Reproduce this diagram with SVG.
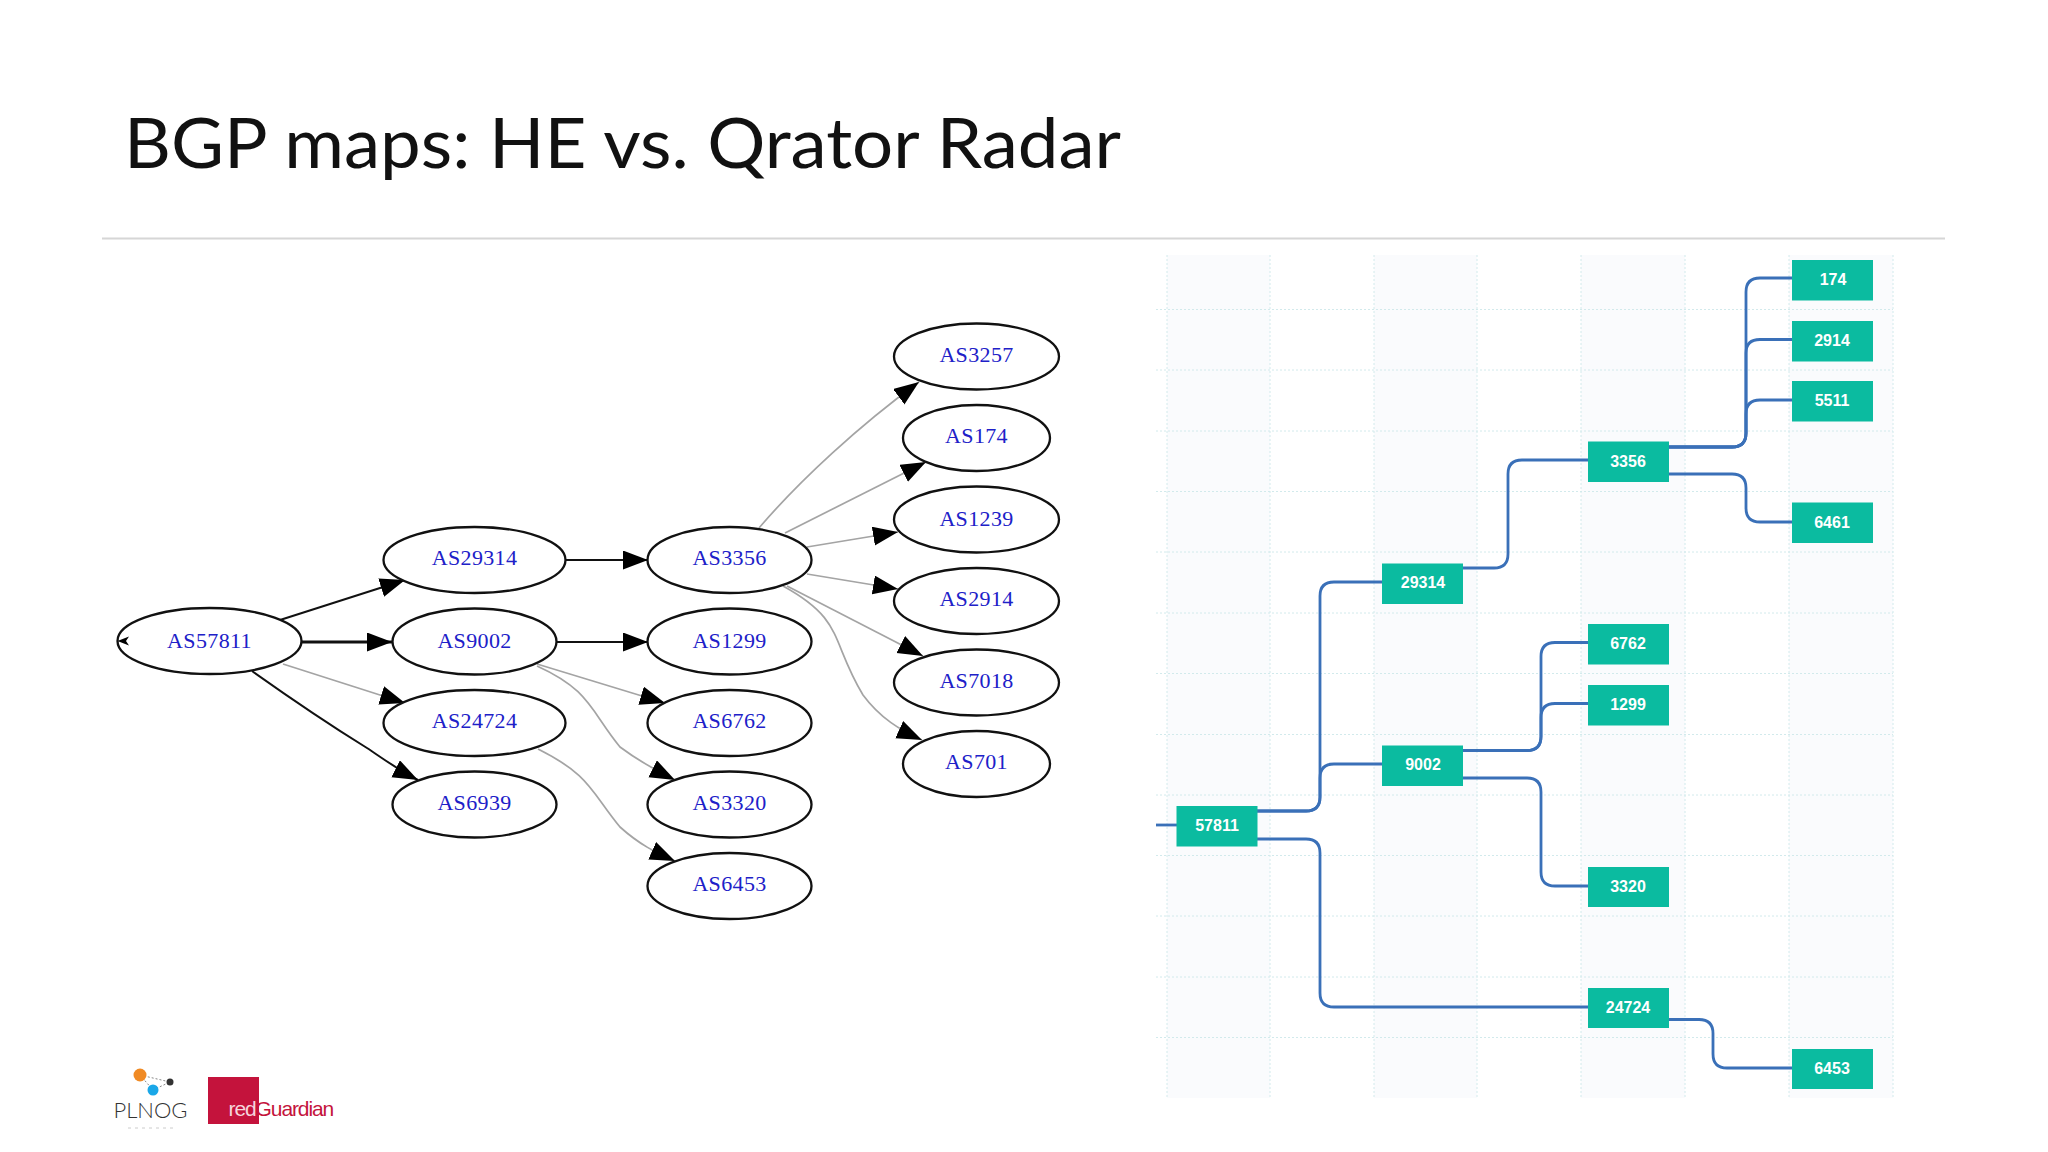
<svg xmlns="http://www.w3.org/2000/svg" width="2048" height="1152" viewBox="0 0 2048 1152">
<style>
.title{font-family:Lato,"Open Sans",sans-serif;font-size:70px;fill:#111}
.n ellipse{fill:#fff;stroke:#111;stroke-width:2.3}
.n text{font-family:"Liberation Serif",serif;font-size:22px;letter-spacing:.35px;fill:#2020c8;text-anchor:middle}
.b rect{fill:#0bbba0}
.b text{font-family:"Liberation Sans",Arial,sans-serif;font-size:16px;font-weight:700;fill:#fff;text-anchor:middle}
.dk{fill:none;stroke:#111;stroke-width:2;marker-end:url(#ah)}
.gy{fill:none;stroke:#a4a4a4;stroke-width:1.7;marker-end:url(#ah)}
.tl{fill:none;stroke:#3a70b8;stroke-width:2.8}
.gr{stroke:#d2eaec;stroke-width:1;stroke-dasharray:2 2}
.col{fill:#fafbfd}
</style>
<defs>
<marker id="ah" markerUnits="userSpaceOnUse" markerWidth="26" markerHeight="20" refX="25" refY="9.5" orient="auto"><path d="M0 0L25 9.5L0 19z" fill="#000"/></marker>
</defs>
<rect width="2048" height="1152" fill="#fff"/>
<text class="title" x="124" y="168" textLength="997" lengthAdjust="spacingAndGlyphs">BGP maps: HE vs. Qrator Radar</text>
<line x1="102" y1="238.5" x2="1945" y2="238.5" stroke="#d6d6d6" stroke-width="2"/>

<g id="grid">
<rect class="col" x="1167" y="255" width="103" height="843"/>
<rect class="col" x="1374" y="255" width="103" height="843"/>
<rect class="col" x="1581" y="255" width="104" height="843"/>
<rect class="col" x="1789" y="255" width="104" height="843"/>
<path class="gr" fill="none" d="M1167 255V1098M1270 255V1098M1374 255V1098M1477 255V1098M1581 255V1098M1685 255V1098M1789 255V1098M1893 255V1098M1156 309.500H1893M1156 370H1893M1156 431H1893M1156 491.500H1893M1156 552H1893M1156 613H1893M1156 673.500H1893M1156 734.500H1893M1156 795H1893M1156 855.500H1893M1156 916H1893M1156 977H1893M1156 1037.500H1893"/>
</g>

<g id="connectors">
<path class="dk" d="M280 620L405 580"/>
<path class="dk" style="stroke-width:3" d="M302 642H392"/>
<path class="gy" d="M283 664L405 703"/>
<path class="dk" d="M252 671C290 698 330 725 367 748C385 760 400 771 418 780"/>
<path class="dk" d="M566 560H648"/>
<path class="dk" d="M557 642H648"/>
<path class="gy" d="M537 664L665 703"/>
<path class="gy" d="M537 666C590 690 590 710 620 747C640 762 655 770 675 780"/>
<path class="gy" d="M538 749C590 775 590 790 620 827C640 845 655 852 675 861"/>
<path class="gy" d="M759 528C800 480 860 425 919 382"/>
<path class="gy" d="M785 533L926 462"/>
<path class="gy" d="M807 547L898 532"/>
<path class="gy" d="M807 574L898 589"/>
<path class="gy" d="M787 586L923 656"/>
<path class="gy" d="M783 586C845 620 830 640 863 695C880 718 900 730 922 740"/>
<path class="tl" d="M1156 825H1177"/>
<path class="tl" d="M1257 811H1306Q1320 811 1320 797V596Q1320 582 1334 582H1382"/>
<path class="tl" d="M1257 811H1306Q1320 811 1320 797V778Q1320 764 1334 764H1382"/>
<path class="tl" d="M1257 839H1306Q1320 839 1320 853V993Q1320 1007 1334 1007H1588"/>
<path class="tl" d="M1463 568H1494Q1508 568 1508 554V474Q1508 460 1522 460H1588"/>
<path class="tl" d="M1669 447H1732Q1746 447 1746 433V292Q1746 278 1760 278H1792"/>
<path class="tl" d="M1669 447H1732Q1746 447 1746 433V353Q1746 339.500 1760 339.500H1792"/>
<path class="tl" d="M1669 447H1732Q1746 447 1746 433V414Q1746 400 1760 400H1792"/>
<path class="tl" d="M1669 474H1732Q1746 474 1746 488V508Q1746 522 1760 522H1792"/>
<path class="tl" d="M1463 750.500H1527Q1541 750.500 1541 736.500V656.500Q1541 642.500 1555 642.500H1588"/>
<path class="tl" d="M1463 750.500H1527Q1541 750.500 1541 736.500V717.500Q1541 703.500 1555 703.500H1588"/>
<path class="tl" d="M1463 778H1527Q1541 778 1541 792V872Q1541 886 1555 886H1588"/>
<path class="tl" d="M1669 1019.500H1699Q1713 1019.500 1713 1033.500V1054Q1713 1068 1727 1068H1792"/>
</g>

<g id="AS57811" class="n"><ellipse cx="209.500" cy="641" rx="92" ry="33"/><text x="209.500" y="648">AS57811</text><path fill="#000" stroke="none" d="M117.500 641L129 636.500L126 641L129 645.500z"/></g>
<g id="AS29314" class="n"><ellipse cx="474.500" cy="560" rx="91" ry="33"/><text x="474.500" y="565">AS29314</text></g>
<g id="AS9002" class="n"><ellipse cx="474.500" cy="641.500" rx="82" ry="33"/><text x="474.500" y="648">AS9002</text></g>
<g id="AS24724" class="n"><ellipse cx="474.500" cy="723" rx="91" ry="33"/><text x="474.500" y="728">AS24724</text></g>
<g id="AS6939" class="n"><ellipse cx="474.500" cy="804.500" rx="82" ry="33"/><text x="474.500" y="810">AS6939</text></g>
<g id="AS3356" class="n"><ellipse cx="729.500" cy="560" rx="82" ry="33"/><text x="729.500" y="565">AS3356</text></g>
<g id="AS1299" class="n"><ellipse cx="729.500" cy="641.500" rx="82" ry="33"/><text x="729.500" y="648">AS1299</text></g>
<g id="AS6762" class="n"><ellipse cx="729.500" cy="723" rx="82" ry="33"/><text x="729.500" y="728">AS6762</text></g>
<g id="AS3320" class="n"><ellipse cx="729.500" cy="804.500" rx="82" ry="33"/><text x="729.500" y="810">AS3320</text></g>
<g id="AS6453" class="n"><ellipse cx="729.500" cy="886" rx="82" ry="33"/><text x="729.500" y="891">AS6453</text></g>
<g id="AS3257" class="n"><ellipse cx="976.500" cy="356.500" rx="82.500" ry="33"/><text x="976.500" y="362">AS3257</text></g>
<g id="AS174" class="n"><ellipse cx="976.500" cy="438" rx="73.500" ry="33"/><text x="976.500" y="443">AS174</text></g>
<g id="AS1239" class="n"><ellipse cx="976.500" cy="519.500" rx="82.500" ry="33"/><text x="976.500" y="526">AS1239</text></g>
<g id="AS2914" class="n"><ellipse cx="976.500" cy="601" rx="82.500" ry="33"/><text x="976.500" y="606">AS2914</text></g>
<g id="AS7018" class="n"><ellipse cx="976.500" cy="682.500" rx="82.500" ry="33"/><text x="976.500" y="688">AS7018</text></g>
<g id="AS701" class="n"><ellipse cx="976.500" cy="764" rx="73.500" ry="33"/><text x="976.500" y="769">AS701</text></g>

<g id="b174" class="b"><rect x="1792" y="260" width="81" height="40.500"/><text x="1833" y="285">174</text></g>
<g id="b2914" class="b"><rect x="1792" y="321" width="81" height="40.500"/><text x="1832" y="346">2914</text></g>
<g id="b5511" class="b"><rect x="1792" y="381" width="81" height="40.500"/><text x="1832" y="406">5511</text></g>
<g id="b6461" class="b"><rect x="1792" y="502.500" width="81" height="40.500"/><text x="1832" y="527.500">6461</text></g>
<g id="b3356" class="b"><rect x="1588" y="441.500" width="81" height="40.500"/><text x="1628" y="466.500">3356</text></g>
<g id="b29314" class="b"><rect x="1382" y="563.500" width="81" height="40.500"/><text x="1423" y="588">29314</text></g>
<g id="b6762" class="b"><rect x="1588" y="624" width="81" height="40.500"/><text x="1628" y="649">6762</text></g>
<g id="b1299" class="b"><rect x="1588" y="685" width="81" height="40.500"/><text x="1628" y="709.500">1299</text></g>
<g id="b9002" class="b"><rect x="1382" y="745.500" width="81" height="40.500"/><text x="1423" y="770">9002</text></g>
<g id="b57811" class="b"><rect x="1176.500" y="806" width="81" height="40.500"/><text x="1217" y="831">57811</text></g>
<g id="b3320" class="b"><rect x="1588" y="867" width="81" height="40"/><text x="1628" y="891.500">3320</text></g>
<g id="b24724" class="b"><rect x="1588" y="988" width="81" height="40"/><text x="1628" y="1012.500">24724</text></g>
<g id="b6453" class="b"><rect x="1792" y="1049" width="81" height="40"/><text x="1832" y="1073.500">6453</text></g>

<g id="logo-plnog">
<path d="M140 1075L170 1082L153 1090L140 1075" fill="none" stroke="#888" stroke-width="1" stroke-dasharray="2 2"/>
<circle cx="140" cy="1075" r="6.500" fill="#f08a24"/>
<circle cx="153" cy="1090" r="5.500" fill="#1aa7e8"/>
<circle cx="170" cy="1082" r="3.500" fill="#333"/>
<text x="113.500" y="1118" font-family="Lato,'Liberation Sans',sans-serif" font-size="22" font-weight="300" fill="#333" textLength="74">PLNOG</text>
<path d="M128 1128H174" stroke="#ccc" stroke-width="1" stroke-dasharray="3 4"/>
</g>
<g id="logo-redguardian">
<rect x="208" y="1077" width="51" height="47" fill="#c4133c"/>
<text x="228.500" y="1116" font-family="'Liberation Sans',Arial,sans-serif" font-size="21" letter-spacing="-1.100"><tspan fill="#f6d5dc">red</tspan><tspan fill="#c4133c">Guardian</tspan></text>
</g>
</svg>
